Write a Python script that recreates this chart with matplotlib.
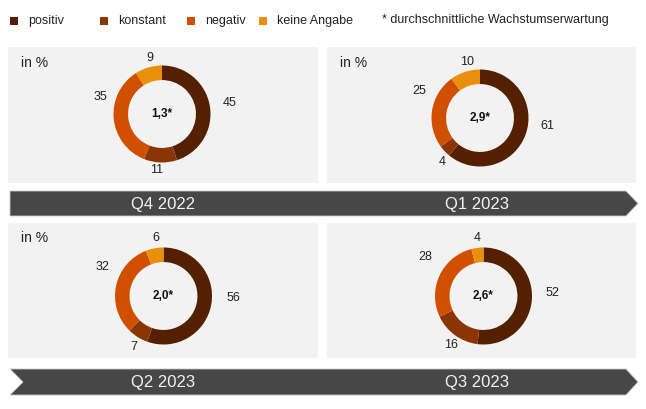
import matplotlib

matplotlib.use("Agg")
import matplotlib.pyplot as plt
from matplotlib.patches import Polygon, Rectangle

plt.rcParams["font.family"] = ["Liberation Sans", "DejaVu Sans"]

# data
categories = ["positiv", "konstant", "negativ", "keine Angabe"]
quarters = ["Q4 2022", "Q1 2023", "Q2 2023", "Q3 2023"]
shares_q4_2022 = [45, 11, 35, 9]
shares_q1_2023 = [61, 4, 25, 10]
shares_q2_2023 = [56, 7, 32, 6]
shares_q3_2023 = [52, 16, 28, 4]
growth_avg = ["1,3*", "2,9*", "2,0*", "2,6*"]
footnote = "* durchschnittliche Wachstumserwartung"

colors = ["#552000", "#8B3505", "#D14F00", "#E8900A"]
PANEL_BG = "#F2F2F2"
BAR = "#474747"

W, H = 646, 409
R = 48.5

# layout (pixel coordinates, y down)
panels = [(8, 47, 318, 183), (327, 47, 636, 183), (8, 223, 318, 358), (327, 223, 636, 358)]
centers = [(162, 114), (480, 118), (163.5, 296), (483.5, 296)]
label_pos = [
    [(230, 103), (157, 170), (100, 97), (150, 58)],
    [(547, 126), (442, 162), (419, 91), (467, 62)],
    [(233, 298), (134, 347), (103, 267), (156, 238)],
    [(552, 293), (451, 345), (425, 257), (477, 238)],
]
in_pct_pos = [(21, 63), (340, 63), (21, 238), None]
quarter_pos = [(163, 204), (477, 204), (163, 383), (477, 382)]

fig = plt.figure(figsize=(W / 100, H / 100), dpi=100)
ax = fig.add_axes([0, 0, 1, 1])
ax.set_xlim(0, W)
ax.set_ylim(H, 0)
ax.axis("off")

# legend row
leg_sq_x = [10, 100, 187, 259]
for x, c, name in zip(leg_sq_x, colors, categories):
    ax.add_patch(Rectangle((x, 17), 8, 8, color=c, lw=0))
    ax.text(x + 18, 21, name, fontsize=9, va="center", ha="left", color="#222222")
ax.text(382, 20, footnote, fontsize=9, va="center", ha="left", color="#222222")

# panels
for (x0, y0, x1, y1) in panels:
    ax.add_patch(Rectangle((x0, y0), x1 - x0, y1 - y0, color=PANEL_BG, lw=0, zorder=0))

# arrow bars
top_bar = [(10, 191), (626, 191), (638, 203.5), (626, 216), (10, 216)]
bottom_bar = [(10, 369), (626, 369), (638, 382), (626, 395), (10, 395), (23, 382)]
for pts in (top_bar, bottom_bar):
    ax.add_patch(Polygon(pts, closed=True, facecolor=BAR, edgecolor="#C8C8C8", lw=0.6))

for (qx, qy), q in zip(quarter_pos, quarters):
    ax.text(qx, qy, q, fontsize=12, color="#F2F2F2", ha="center", va="center")

# donuts
all_shares = [shares_q4_2022, shares_q1_2023, shares_q2_2023, shares_q3_2023]
for i, shares in enumerate(all_shares):
    cx, cy = centers[i]
    dax = fig.add_axes([(cx - R) / W, 1 - (cy + R) / H, 2 * R / W, 2 * R / H])
    dax.pie(shares, colors=colors, startangle=90, counterclock=False,
            wedgeprops=dict(width=0.3, edgecolor="none"))
    dax.set_xlim(-1, 1)
    dax.set_ylim(-1, 1)
    dax.axis("off")
    ax.text(cx, cy, growth_avg[i], fontsize=8.5, fontweight="bold", ha="center", va="center",
            color="#111111")
    for (lx, ly), v in zip(label_pos[i], shares):
        ax.text(lx, ly, str(v), fontsize=9, ha="center", va="center", color="#222222")
    if in_pct_pos[i] is not None:
        px, py = in_pct_pos[i]
        ax.text(px, py, "in %", fontsize=10, ha="left", va="center", color="#222222")

fig.savefig("out.png", dpi=100, facecolor="white")
plt.close(fig)
